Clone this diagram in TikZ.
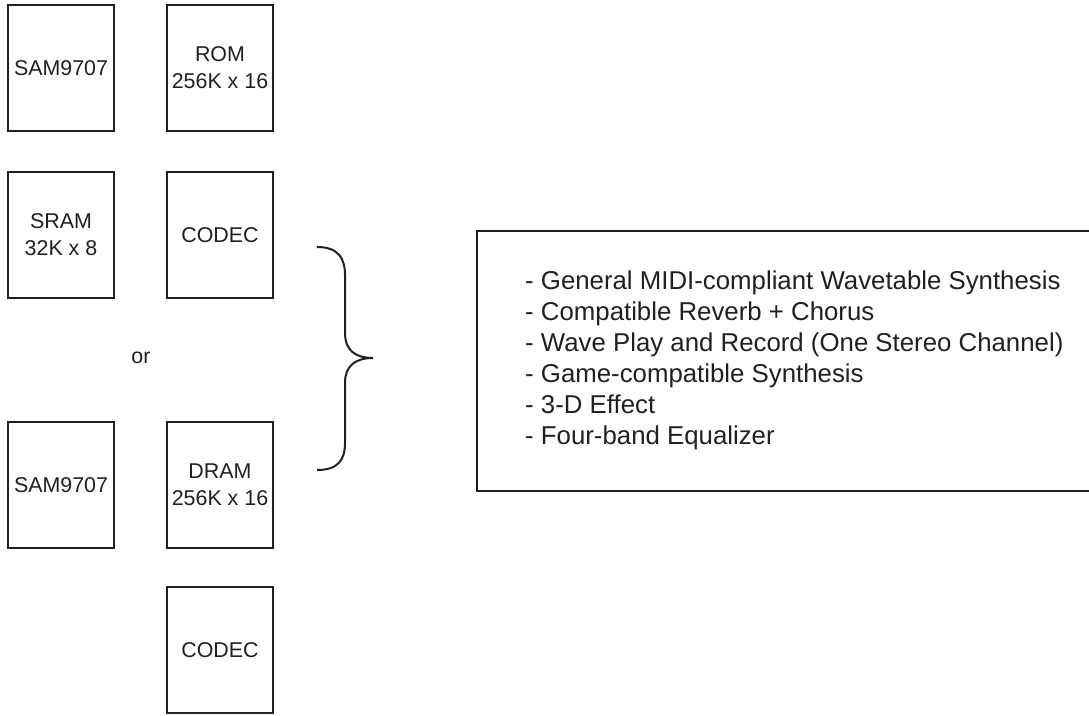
\documentclass[tikz,border=0pt]{standalone}
\usepackage{fontspec}
\setmainfont{Liberation Sans}
\usepackage{tikz}

\definecolor{ink}{HTML}{231F20}

\tikzset{
    chip/.style={draw=ink, line width=1.8pt, minimum width=106, minimum height=126,
        inner sep=0pt, align=center, text=ink, font=\fontsize{21.4}{27}\selectfont},
    feature/.style={anchor=west, inner sep=0pt, align=left, text=ink,
        font=\fontsize{25.8}{31}\selectfont}
}

\begin{document}
\begin{tikzpicture}[x=1pt, y=-1pt]
    \useasboundingbox (0,0) rectangle (1089,715);

    \node[chip] (sama) at (61,68) {SAM9707};
    \node[chip] (rom) at (220,68) {ROM\\256K x 16};
    \node[chip] (sram) at (61,235) {SRAM\\32K x 8};
    \node[chip] (codeca) at (220,235) {CODEC};

    \node[text=ink, font=\fontsize{21.4}{27}\selectfont] (or) at (141,358) {or};

    \node[chip] (samb) at (61,485) {SAM9707};
    \node[chip] (dram) at (220,485) {DRAM\\256K x 16};
    \node[chip] (codecb) at (220,650) {CODEC};

    \draw[ink, line width=2pt] (317,247) .. controls (338,247) and (345,258) .. (345,275)
        -- (345,333) .. controls (345,350) and (355,358) .. (373,358)
        .. controls (355,358) and (345,366) .. (345,383)
        -- (345,443) .. controls (345,460) and (338,470) .. (317,470);

    \draw[ink, line width=1.8pt] (1092,231) -- (477,231) -- (477,491) -- (1092,491);
    \node[feature] (list) at (525,360.5) {- General MIDI-compliant Wavetable Synthesis\\
        - Compatible Reverb + Chorus\\
        - Wave Play and Record (One Stereo Channel)\\
        - Game-compatible Synthesis\\
        - 3-D Effect\\
        - Four-band Equalizer};
\end{tikzpicture}
\end{document}
